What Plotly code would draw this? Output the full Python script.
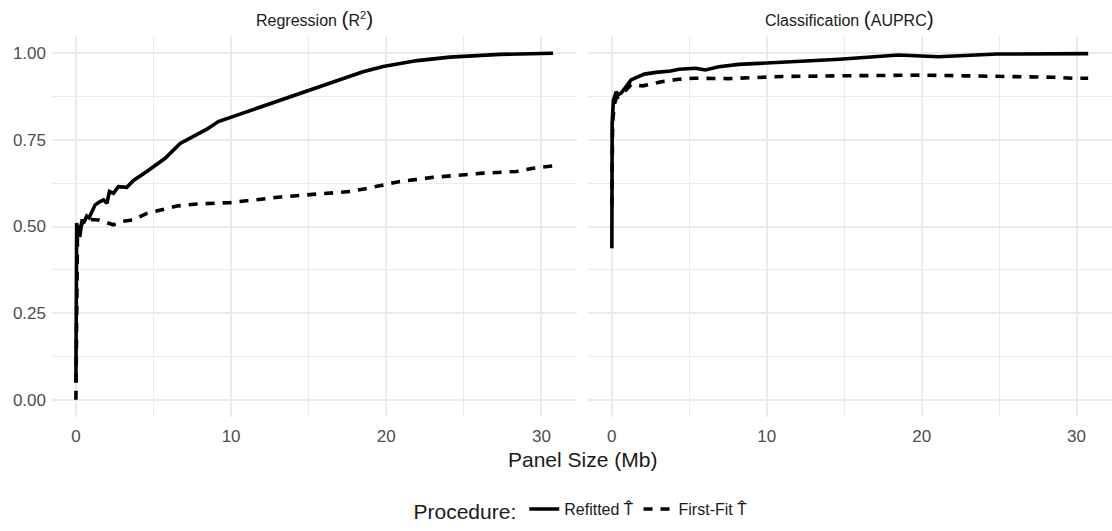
import plotly.graph_objects as go

# ---- data ----
reg_ref_x = [0, 0.005, 0.01, 0.02, 0.05, 0.1, 0.18, 0.25, 0.3, 0.4, 0.5, 0.7, 0.85, 1.03, 1.24, 1.56, 1.78, 2.0,
             2.16, 2.42, 2.74, 3.28, 3.71, 4.57, 5.75, 6.72, 7.79, 8.44, 9.18, 12.0, 15.0, 18.5, 19.8, 22.0,
             24.1, 27.3, 30.75]
reg_ref_y = [0.05, 0.2, 0.35, 0.45, 0.51, 0.49, 0.50, 0.47, 0.49, 0.52, 0.51, 0.53, 0.525, 0.543, 0.5625,
             0.572, 0.577, 0.567, 0.601, 0.596, 0.615, 0.613, 0.633, 0.659, 0.697, 0.740, 0.767, 0.781, 0.803,
             0.846, 0.894, 0.947, 0.962, 0.979, 0.989, 0.997, 1.0]

reg_ff_x = [0, 0.02, 0.05, 0.1, 0.2, 0.3, 0.49, 1.0, 1.46, 2.0, 2.42, 3.0, 3.71, 4.57, 5.43, 6.5, 7.79, 9.94,
            13.37, 15.09, 17.67, 18.74, 19.8, 20.88, 23.03, 26.25, 28.4, 29.46, 30.75]
reg_ff_y = [0.0, 0.2, 0.38, 0.47, 0.48, 0.50, 0.515, 0.52, 0.519, 0.51, 0.505, 0.515, 0.519, 0.538, 0.548,
            0.559, 0.565, 0.569, 0.586, 0.591, 0.601, 0.610, 0.620, 0.630, 0.642, 0.654, 0.659, 0.668, 0.675]

cls_ref_x = [0, 0.02, 0.1, 0.28, 0.4, 0.6, 0.92, 1.24, 1.56, 2.1, 2.85, 3.8, 4.34, 5.4, 6.05, 6.9, 8.2,
             10.98, 14.7, 18.5, 21.08, 24.9, 27.5, 30.75]
cls_ref_y = [0.4375, 0.80, 0.865, 0.889, 0.88, 0.885, 0.904, 0.923, 0.930, 0.940, 0.945, 0.949, 0.954,
             0.957, 0.952, 0.961, 0.968, 0.974, 0.983, 0.995, 0.990, 0.998, 0.999, 0.999]

cls_ff_x = [0, 0.05, 0.15, 0.28, 0.6, 1.24, 2.0, 3.2, 4.3, 5.3, 7.5, 11.0, 14.8, 19.8, 22.8, 26.3, 28.5,
            29.8, 30.75]
cls_ff_y = [0.56, 0.80, 0.85, 0.870, 0.88, 0.909, 0.906, 0.918, 0.925, 0.928, 0.927, 0.933, 0.935, 0.937,
            0.935, 0.933, 0.931, 0.928, 0.928]

big = "<span style='font-size:21px'>%s</span>"
panel_titles = ["Regression " + big % "(" + "R<sup>2</sup>" + big % ")",
                "Classification " + big % "(" + "AUPRC" + big % ")"]
legend_names = ["Refitted T\u0302", "First-Fit T\u0302"]

W, H = 1112, 531
L, R, T, B = 52, 0, 36, 114
plot_w = W - L - R
d1 = [0, 525 / plot_w]
d2 = [(588 - L) / plot_w, 1]

fig = go.Figure()
solid = dict(color="black", width=3.6)
dashed = dict(color="black", width=3.6, dash="9px,8px")

fig.add_trace(go.Scatter(x=reg_ref_x, y=reg_ref_y, mode="lines", line=solid, name=legend_names[0],
                         legendgroup="a", xaxis="x", yaxis="y"))
fig.add_trace(go.Scatter(x=reg_ff_x, y=reg_ff_y, mode="lines", line=dashed, name=legend_names[1],
                         legendgroup="b", xaxis="x", yaxis="y"))
fig.add_trace(go.Scatter(x=cls_ref_x, y=cls_ref_y, mode="lines", line=solid, name=legend_names[0],
                         legendgroup="a", showlegend=False, xaxis="x2", yaxis="y2"))
fig.add_trace(go.Scatter(x=cls_ff_x, y=cls_ff_y, mode="lines", line=dashed, name=legend_names[1],
                         legendgroup="b", showlegend=False, xaxis="x2", yaxis="y2"))

grid = "#EBEBEB"
tickfont = dict(family="Liberation Sans, Arial, sans-serif", size=17, color="#4D4D4D")
xcommon = dict(range=[-1.54, 32.29], tick0=0, dtick=10, showgrid=True, gridcolor=grid, gridwidth=1.6,
               zeroline=False, showline=False, ticks="", tickfont=tickfont, ticklabelstandoff=7,
               minor=dict(dtick=5, tick0=0, showgrid=True, gridcolor=grid, gridwidth=0.8))
ycommon = dict(range=[-0.05, 1.05], tick0=0, dtick=0.25, tickformat=".2f", showgrid=True, gridcolor=grid,
               gridwidth=1.6, zeroline=False, showline=False, ticks="", tickfont=tickfont, ticklabelstandoff=5,
               minor=dict(dtick=0.125, tick0=0, showgrid=True, gridcolor=grid, gridwidth=0.8))

fig.update_layout(
    width=W, height=H,
    margin=dict(l=L, r=R, t=T, b=B, autoexpand=False),
    plot_bgcolor="white", paper_bgcolor="white",
    font=dict(family="Liberation Sans, Arial, sans-serif", color="#1A1A1A"),
    xaxis=dict(domain=d1, anchor="y", **xcommon),
    yaxis=dict(domain=[0, 1], anchor="x", **ycommon),
    xaxis2=dict(domain=d2, anchor="y2", **xcommon),
    yaxis2=dict(domain=[0, 1], anchor="x2", showticklabels=False, **ycommon),
    legend=dict(orientation="h", x=0.5, xanchor="center", y=-0.247, yanchor="middle",
                title=dict(text="Procedure:", font=dict(size=21, color="#1A1A1A")),
                font=dict(size=16, color="#1A1A1A"), itemwidth=30),
    showlegend=True,
)

ph = H - T - B
fig.add_annotation(text=panel_titles[0], x=(d1[0] + d1[1]) / 2, y=1 + (T - 18) / ph, xref="paper",
                   yref="paper", showarrow=False, xanchor="center", yanchor="middle",
                   font=dict(size=16, color="#1A1A1A"))
fig.add_annotation(text=panel_titles[1], x=(d2[0] + d2[1]) / 2, y=1 + (T - 18) / ph, xref="paper",
                   yref="paper", showarrow=False, xanchor="center", yanchor="middle",
                   font=dict(size=16, color="#1A1A1A"))
fig.add_annotation(text="Panel Size (Mb)", x=0.5, y=-(459 - (H - B)) / ph, xref="paper", yref="paper",
                   showarrow=False, xanchor="center", yanchor="middle", font=dict(size=21, color="#1A1A1A"))

fig.write_html("out.html", config={"displayModeBar": False},
               post_script="document.body.style.margin='0';")
